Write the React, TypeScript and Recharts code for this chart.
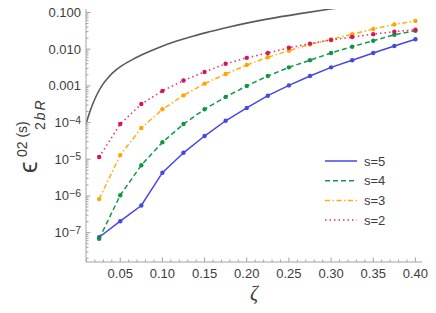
import React from "react";
import { LineChart, Line, XAxis, YAxis, Legend } from "recharts";

// ζ grid of the computed points
const zeta = [0.025, 0.05, 0.075, 0.1, 0.125, 0.15, 0.175, 0.2, 0.225, 0.25, 0.275, 0.3, 0.325, 0.35, 0.375, 0.4];

const s5 = [7.5e-8, 2.05e-7, 5.5e-7, 4.3e-6, 1.5e-5, 4.3e-5, 1.12e-4, 2.5e-4, 5.4e-4, 1.03e-3, 1.86e-3, 3.2e-3, 5.0e-3, 7.9e-3, 1.22e-2, 1.86e-2];
const s4 = [6.8e-8, 1.05e-6, 6.9e-6, 2.9e-5, 9.1e-5, 2.3e-4, 5.0e-4, 1.0e-3, 1.85e-3, 3.2e-3, 5.0e-3, 7.9e-3, 1.17e-2, 1.7e-2, 2.47e-2, 3.18e-2];
const s3 = [8.2e-7, 1.3e-5, 7.1e-5, 2.3e-4, 5.5e-4, 1.15e-3, 2.1e-3, 3.7e-3, 6.0e-3, 9.1e-3, 1.35e-2, 1.85e-2, 2.56e-2, 3.55e-2, 4.7e-2, 5.9e-2];
const s2 = [1.15e-5, 9.1e-5, 3.2e-4, 7.3e-4, 1.4e-3, 2.4e-3, 4.0e-3, 5.8e-3, 7.9e-3, 1.09e-2, 1.42e-2, 1.78e-2, 2.14e-2, 2.57e-2, 3.0e-2, 3.4e-2];

const boundZeta = [0.0089, 0.0129, 0.0168, 0.0227, 0.0287, 0.0366, 0.0444, 0.052, 0.068, 0.0776, 0.0974, 0.117, 0.137, 0.157, 0.178, 0.224, 0.263, 0.299, 0.32];
const boundValues = [8.5e-5, 1.66e-4, 2.95e-4, 6.0e-4, 1.05e-3, 1.78e-3, 2.63e-3, 3.55e-3, 5.75e-3, 7.4e-3, 1.15e-2, 1.66e-2, 2.29e-2, 3.02e-2, 3.98e-2, 6.6e-2, 9.33e-2, 0.124, 0.145];

const xTicks = [0.05, 0.1, 0.15, 0.2, 0.25, 0.3, 0.35, 0.4];
const xTickLabels = ["0.05", "0.10", "0.15", "0.20", "0.25", "0.30", "0.35", "0.40"];
const yTicks = [1e-7, 1e-6, 1e-5, 1e-4, 1e-3, 1e-2, 1e-1];
const yTickLabels = ["10|−7", "10|−6", "10|−5", "10|−4", "0.001", "0.010", "0.100"];

const X_DOMAIN = [0.0094, 0.4078];
const Y_DOMAIN = [1.585e-8, 0.1245];

const FRAME = "#a3a3a3";
const TEXT = "#3c3c3c";
const FONT = "'Liberation Sans', Arial, sans-serif";

const SERIES = [
  { key: "s5", name: "s=5", values: s5, color: "#4646e2", dot: "#4646e2", dash: undefined },
  { key: "s4", name: "s=4", values: s4, color: "#13994a", dot: "#0f9442", dash: "5 3" },
  { key: "s3", name: "s=3", values: s3, color: "#ffad14", dot: "#ffa500", dash: "5 2.5 1.5 2.5" },
  { key: "s2", name: "s=2", values: s2, color: "#e0306e", dot: "#d8145c", dash: "1.5 3" },
];

// minor ticks (tick positions only)
const xMinor: number[] = [];
for (let i = 1; i <= 40; i++) xMinor.push(Math.round(i) / 100);
const yMinor: number[] = [];
for (let e = -8; e <= -1; e++) {
  for (let m = 2; m <= 9; m++) {
    const v = m * Math.pow(10, e);
    if (v > Y_DOMAIN[0] && v < Y_DOMAIN[1]) yMinor.push(v);
  }
}
const xAllTicks = [...xMinor];
const yAllTicks = [...yTicks, ...yMinor].sort((a, b) => a - b);

const near = (a: number, b: number) => Math.abs(a - b) <= Math.abs(b) * 1e-6;
const xMajorIndex = (v: number) => xTicks.findIndex((t) => near(v, t));
const yMajorIndex = (v: number) => yTicks.findIndex((t) => near(v, t));

const XTick = (props: any) => {
  const { x, y, payload, side } = props;
  const idx = xMajorIndex(payload.value);
  const len = idx >= 0 ? 4.5 : 2.5;
  const dir = side === "bottom" ? -1 : 1;
  return (
    <g>
      <line x1={x} x2={x} y1={y} y2={y + dir * len} stroke={FRAME} strokeWidth={1} />
      {side === "bottom" && idx >= 0 && (
        <text x={x} y={y + 16} textAnchor="middle" fontSize={13} fill={TEXT} fontFamily={FONT}>
          {xTickLabels[idx]}
        </text>
      )}
    </g>
  );
};

const YTick = (props: any) => {
  const { x, y, payload, side } = props;
  const idx = yMajorIndex(payload.value);
  const len = idx >= 0 ? 4.5 : 2.5;
  const dir = side === "left" ? 1 : -1;
  let label: React.ReactNode = null;
  if (side === "left" && idx >= 0) {
    const [base, exp] = yTickLabels[idx].split("|");
    label = (
      <text x={x - 5} y={y + 4.5} textAnchor="end" fontSize={13} fill={TEXT} fontFamily={FONT}>
        <tspan>{base}</tspan>
        {exp && (
          <tspan dy={-3.5} fontSize={10.5}>
            {exp}
          </tspan>
        )}
      </text>
    );
  }
  return (
    <g>
      <line x1={x} x2={x + dir * len} y1={y} y2={y} stroke={FRAME} strokeWidth={1} />
      {label}
    </g>
  );
};

const XTitle = (props: any) => {
  const { viewBox } = props;
  return (
    <text
      x={viewBox.x + viewBox.width / 2}
      y={viewBox.y + 38}
      textAnchor="middle"
      fontSize={20}
      fontStyle="italic"
      fill={TEXT}
      fontFamily="'Liberation Serif', 'DejaVu Serif', serif"
    >
      ζ
    </text>
  );
};

const YTitle = (props: any) => {
  const { viewBox } = props;
  const tx = viewBox.x + 37;
  const ty = 173;
  return (
    <g transform={`translate(${tx},${ty}) rotate(-90)`} fill={TEXT} fontFamily={FONT}>
      <text x={0} y={0} fontSize={26}>ϵ</text>
      <text x={16} y={-10} fontSize={14}>02 (s)</text>
      <text x={43} y={8} fontSize={14}>
        <tspan>2</tspan>
        <tspan dx={2} fontStyle="italic">b</tspan>
        <tspan dx={2} fontStyle="italic">R</tspan>
      </text>
    </g>
  );
};

const LegendBox = () => (
  <svg width={90} height={80} style={{ display: "block" }}>
    {SERIES.map((s, i) => {
      const y = 11 + i * 19.7;
      return (
        <g key={s.key}>
          <line x1={3} x2={35} y1={y} y2={y} stroke={s.color} strokeWidth={1.5} strokeDasharray={s.dash} />
          <text x={42} y={y + 4.5} fontSize={13} fill={TEXT} fontFamily={FONT}>
            {s.name}
          </text>
        </g>
      );
    })}
  </svg>
);

export default function App() {
  const boundData = boundZeta.map((z, i) => ({ z, v: boundValues[i] }));
  return (
    <div style={{ width: 436, height: 313, background: "#fff" }}>
      <style>{`body{margin:0;}`}</style>
      <LineChart width={436} height={313} margin={{ top: 9, right: 14, bottom: 0, left: 0 }} style={{ fontFamily: FONT }}>
        <XAxis
          xAxisId="x"
          dataKey="z"
          type="number"
          domain={X_DOMAIN}
          allowDataOverflow
          ticks={xAllTicks}
          interval={0}
          height={51}
          tickSize={0}
          tickMargin={0}
          tickLine={false}
          axisLine={{ stroke: FRAME }}
          tick={(p: any) => <XTick {...p} side="bottom" />}
          label={(p: any) => <XTitle {...p} />}
        />
        <XAxis
          xAxisId="xt"
          orientation="top"
          dataKey="z"
          type="number"
          domain={X_DOMAIN}
          allowDataOverflow
          ticks={xAllTicks}
          interval={0}
          height={0}
          tickSize={0}
          tickMargin={0}
          tickLine={false}
          axisLine={{ stroke: FRAME }}
          tick={(p: any) => <XTick {...p} side="top" />}
        />
        <YAxis
          yAxisId="y"
          type="number"
          scale="log"
          domain={Y_DOMAIN}
          allowDataOverflow
          ticks={yAllTicks}
          interval={0}
          width={86}
          tickSize={0}
          tickMargin={0}
          tickLine={false}
          axisLine={{ stroke: FRAME }}
          tick={(p: any) => <YTick {...p} side="left" />}
          label={(p: any) => <YTitle {...p} />}
        />
        <YAxis
          yAxisId="yr"
          orientation="right"
          type="number"
          scale="log"
          domain={Y_DOMAIN}
          allowDataOverflow
          ticks={yAllTicks}
          interval={0}
          width={0}
          tickSize={0}
          tickMargin={0}
          tickLine={false}
          axisLine={{ stroke: FRAME }}
          tick={(p: any) => <YTick {...p} side="right" />}
        />
        <Line
          xAxisId="x"
          yAxisId="y"
          data={boundData}
          dataKey="v"
          type="monotone"
          stroke="#5a5a5a"
          strokeWidth={1.6}
          dot={false}
          activeDot={false}
          isAnimationActive={false}
          legendType="none"
        />
        {SERIES.map((s) => (
          <Line
            key={s.key}
            xAxisId="x"
            yAxisId="y"
            data={zeta.map((z, i) => ({ z, v: s.values[i] }))}
            dataKey="v"
            name={s.name}
            type="linear"
            stroke={s.color}
            strokeWidth={1.5}
            strokeDasharray={s.dash}
            dot={{ r: 2.2, fill: s.dot, stroke: "none", strokeWidth: 0 }}
            activeDot={false}
            isAnimationActive={false}
          />
        ))}
        <Legend
          layout="vertical"
          align="center"
          verticalAlign="middle"
          wrapperStyle={{ position: "absolute", left: 322, top: 150, width: 90, height: 80 }}
          content={() => <LegendBox />}
        />
      </LineChart>
    </div>
  );
}
